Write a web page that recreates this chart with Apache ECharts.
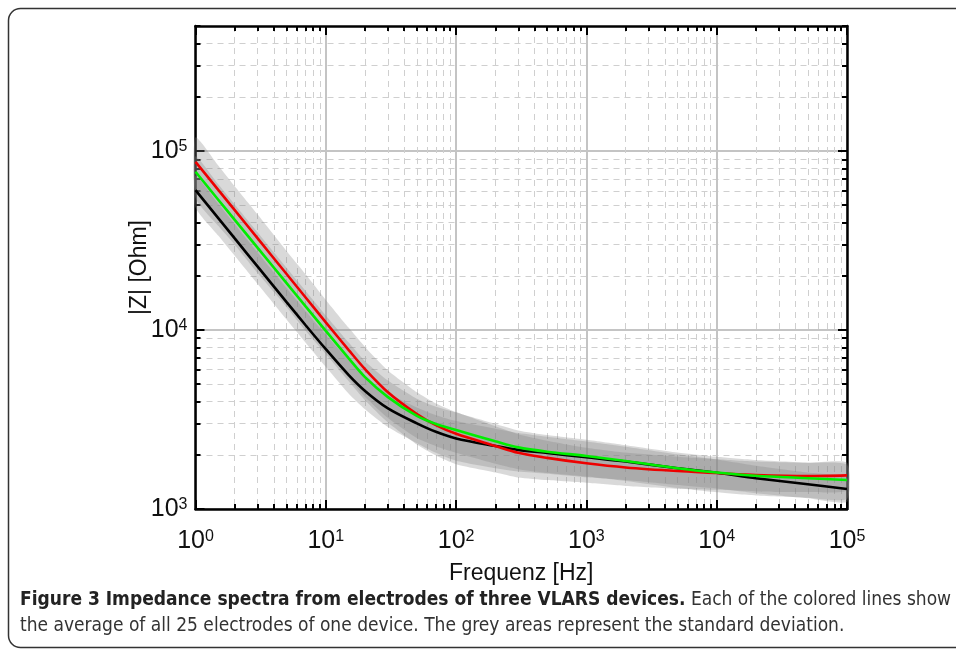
<!DOCTYPE html>
<html><head><meta charset="utf-8">
<script src="https://cdn.jsdelivr.net/npm/echarts@6/dist/echarts.min.js"></script>
<style>html,body{margin:0;padding:0;background:#fff}#c{width:956px;height:651px}</style>
</head><body><div id="c"></div>
<script>
// ---- data ----
const freqs = [1, 1.5, 2, 3, 5, 7, 10, 15, 20, 30, 50, 70, 100, 200, 300, 500, 1000, 2000, 5000, 10000, 20000, 50000, 100000];
const redMean   = [87100, 60500, 46800, 32500, 20560, 15200, 11040, 7730, 6050, 4490, 3390, 2940, 2630, 2250, 2060, 1930, 1800, 1706, 1629, 1589, 1549, 1528, 1542];
const greenMean = [76600, 53300, 41300, 28770, 18280, 13550, 9890, 6950, 5460, 4220, 3310, 2985, 2760, 2390, 2210, 2090, 1977, 1854, 1690, 1600, 1535, 1486, 1452];
const blackMean = [60500, 42100, 32500, 22600, 14320, 10640, 7820, 5600, 4570, 3650, 3010, 2700, 2480, 2250, 2140, 2056, 1945, 1841, 1690, 1596, 1486, 1374, 1294];
const redStd   = [32200, 22400, 16800, 11700, 7100, 5300, 3700, 2560, 2000, 1450, 1100, 950, 850, 650, 560, 480, 400, 360, 330, 310, 295, 285, 275];
const greenStd = [16900, 11700, 9000, 6300, 4000, 2970, 2180, 1560, 1240, 1000, 820, 740, 700, 600, 540, 500, 460, 420, 380, 360, 345, 330, 315];
const blackStd = [12100, 8500, 6500, 4500, 2860, 2140, 1590, 1190, 960, 780, 680, 640, 620, 560, 520, 480, 440, 390, 330, 295, 260, 225, 200];
const xMajor = [1, 10, 100, 1000, 10000, 100000];
const xMinor = [2,3,4,5,6,7,8,9, 20,30,40,50,60,70,80,90, 200,300,400,500,600,700,800,900, 2000,3000,4000,5000,6000,7000,8000,9000, 20000,30000,40000,50000,60000,70000,80000,90000];
const yMajor = [1000, 10000, 100000];
const yMinor = [2000,3000,4000,5000,6000,7000,8000,9000, 20000,30000,40000,50000,60000,70000,80000,90000, 200000,300000,400000,500000];
const xTitle = 'Frequenz [Hz]';
const yTitle = '|Z| [Ohm]';
const captionBold = 'Figure 3 Impedance spectra from electrodes of three VLARS devices.';
const captionRest1 = ' Each of the colored lines show';
const captionLine2 = 'the average of all 25 electrodes of one device. The grey areas represent the standard deviation.';

const FONT = "'Liberation Sans', Arial, sans-serif";
const CAPFONT = "'Liberation Sans Narrow', 'DejaVu Sans Condensed', sans-serif";
const chart = echarts.init(document.getElementById('c'), null, {renderer: 'canvas'});

function pairs(m) { return freqs.map((f, i) => [f, m[i]]); }
function bandSeries(mean, std, name) {
  return {
    type: 'custom', name: name, z: 2, silent: true,
    data: [[freqs[0], mean[0]]],
    encode: {x: 0, y: 1},
    renderItem: function (params, api) {
      const up = [], lo = [];
      for (let i = 0; i < freqs.length; i++) {
        up.push(api.coord([freqs[i], mean[i] + std[i]]));
        lo.push(api.coord([freqs[i], mean[i] - std[i]]));
      }
      return {type: 'polygon', shape: {points: up.concat(lo.reverse()), smooth: 0.2},
              style: {fill: 'rgba(128,128,128,0.3)'}};
    }
  };
}
function lineSeries(mean, color, name) {
  return {type: 'line', name: name, data: pairs(mean), showSymbol: false, smooth: 0.3, z: 5,
          lineStyle: {color: color, width: 2.6}, silent: true};
}
const supLabel = {
  formatter: v => '{b|10}{s|' + Math.round(Math.log10(v)) + '}',
  rich: {
    b: {fontSize: 25, fontFamily: FONT, color: '#111'},
    s: {fontSize: 16, fontFamily: FONT, color: '#111', verticalAlign: 'top', lineHeight: 18}
  }
};
const axisBlack = {show: true, lineStyle: {color: '#000', width: 2.5}};
function xAx(pos, major, showLabel, grid) {
  return {
    type: 'log', logBase: 10, min: 1, max: 100000, position: pos,
    axisLine: major ? axisBlack : {show: false},
    axisTick: {show: true, inside: true, length: major ? 9 : 5, lineStyle: {color: '#000', width: 2},
               customValues: major ? xMajor : xMinor},
    axisLabel: showLabel ? Object.assign({show: true, margin: 20, customValues: xMajor}, supLabel) : {show: false},
    splitLine: grid ? (major ? {show: true, lineStyle: {color: '#c4c4c4', width: 2}}
                             : {show: true, lineStyle: {color: '#cfcfcf', width: 1, type: [6, 5]}}) : {show: false},
    name: showLabel ? xTitle : '', nameLocation: 'middle', nameGap: 53, nameMoveOverlap: false,
    nameTextStyle: {fontSize: 23, fontFamily: FONT, color: '#111'}
  };
}
function yAx(pos, major, showLabel, grid) {
  return {
    type: 'log', logBase: 10, min: 1000, max: 500000, position: pos,
    axisLine: major ? axisBlack : {show: false},
    axisTick: {show: true, inside: true, length: major ? 9 : 5, lineStyle: {color: '#000', width: 2},
               customValues: major ? yMajor : yMinor},
    axisLabel: showLabel ? Object.assign({show: true, margin: 8, customValues: yMajor}, supLabel) : {show: false},
    splitLine: grid ? (major ? {show: true, lineStyle: {color: '#c4c4c4', width: 2}}
                             : {show: true, lineStyle: {color: '#cfcfcf', width: 1, type: [6, 5]}}) : {show: false},
    name: showLabel ? yTitle : '', nameLocation: 'middle', nameGap: 44, nameRotate: 90, nameMoveOverlap: false,
    nameTextStyle: {fontSize: 23, fontFamily: FONT, color: '#111'}
  };
}

const option = {
  backgroundColor: '#fff',
  animation: false,
  grid: {left: 195.5, top: 26, right: 109, bottom: 142, containLabel: false},
  xAxis: [xAx('bottom', false, false, true), xAx('bottom', true, true, true),
          xAx('top', false, false, false), xAx('top', true, false, false)],
  yAxis: [yAx('left', false, false, true), yAx('left', true, true, true),
          yAx('right', false, false, false), yAx('right', true, false, false)],
  series: [
    Object.assign(bandSeries(redMean, redStd, 'red band'), {xAxisIndex: 1, yAxisIndex: 1}),
    Object.assign(bandSeries(greenMean, greenStd, 'green band'), {xAxisIndex: 1, yAxisIndex: 1}),
    Object.assign(bandSeries(blackMean, blackStd, 'black band'), {xAxisIndex: 1, yAxisIndex: 1}),
    Object.assign(lineSeries(blackMean, '#000000', 'Device 3'), {xAxisIndex: 1, yAxisIndex: 1}),
    Object.assign(lineSeries(redMean, '#ee0000', 'Device 1'), {xAxisIndex: 1, yAxisIndex: 1}),
    Object.assign(lineSeries(greenMean, '#00ee00', 'Device 2'), {xAxisIndex: 1, yAxisIndex: 1})
  ],
  graphic: [
    {type: 'rect', z: 100, shape: {x: 8.5, y: 8.5, width: 1000, height: 639, r: 12},
     style: {fill: 'none', stroke: '#333', lineWidth: 1.5}},
    {type: 'text', z: 100, left: 20, top: 591,
     style: {text: '{b|' + captionBold + '}{n|' + captionRest1 + '}',
             rich: {b: {fontFamily: CAPFONT, fontWeight: 'bold', fontSize: 19, fill: '#222'},
                    n: {fontFamily: CAPFONT, fontSize: 19, fill: '#333'}}}},
    {type: 'text', z: 100, left: 20, top: 617,
     style: {text: captionLine2, fontFamily: CAPFONT, fontSize: 19, fill: '#333'}}
  ]
};
chart.setOption(option);
</script></body></html>
